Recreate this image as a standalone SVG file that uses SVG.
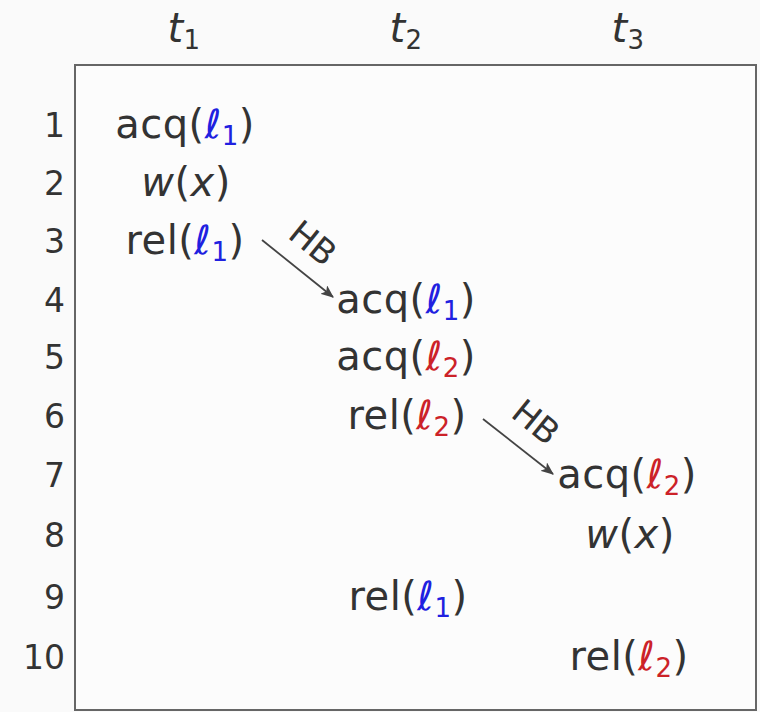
<svg xmlns="http://www.w3.org/2000/svg" width="760" height="712" viewBox="0 0 760 712">
<defs>
<style>
.t{font-family:"DejaVu Sans","Liberation Sans",sans-serif;font-size:40px;fill:#333;text-anchor:middle;letter-spacing:0.5px}
.n{font-family:"DejaVu Sans","Liberation Sans",sans-serif;font-size:33px;fill:#333;text-anchor:end}
.hb{font-family:"DejaVu Sans","Liberation Sans",sans-serif;font-size:34px;fill:#333;text-anchor:middle}
.b{fill:#2020e0;font-style:italic}
.r{fill:#cc2228;font-style:italic}
.i{font-style:italic}
.s{font-size:26px;font-style:normal}
.arr{stroke:#444;stroke-width:1.8;fill:none}
</style>
<marker id="ah" viewBox="0 0 12 10" refX="11" refY="5" markerWidth="13" markerHeight="11" markerUnits="userSpaceOnUse" orient="auto">
<path d="M0,0 L12,5 L0,10 L3,5 Z" fill="#444"/>
</marker>
</defs>
<rect width="760" height="712" fill="#fafafa"/>
<g id="frame">
<rect x="75" y="65" width="681" height="645" fill="#fcfcfc" stroke="#666" stroke-width="2"/>
</g>
<g id="headers">
<text class="t" x="184" y="42"><tspan class="i">t</tspan><tspan class="s" dy="7">1</tspan></text>
<text class="t" x="406" y="42"><tspan class="i">t</tspan><tspan class="s" dy="7">2</tspan></text>
<text class="t" x="628" y="42"><tspan class="i">t</tspan><tspan class="s" dy="7">3</tspan></text>
</g>
<g id="rownums">
<text class="n" x="65" y="137">1</text>
<text class="n" x="65" y="195">2</text>
<text class="n" x="65" y="253">3</text>
<text class="n" x="65" y="312">4</text>
<text class="n" x="65" y="369">5</text>
<text class="n" x="65" y="428">6</text>
<text class="n" x="65" y="487">7</text>
<text class="n" x="65" y="547">8</text>
<text class="n" x="65" y="609">9</text>
<text class="n" x="65" y="669">10</text>
</g>
<g id="e1"><text class="t" x="185" y="138">acq(<tspan class="b">ℓ</tspan><tspan class="b s" dy="7">1</tspan><tspan dy="-7">)</tspan></text></g>
<g id="e2"><text class="t" x="186" y="196"><tspan class="i">w</tspan>(<tspan class="i">x</tspan>)</text></g>
<g id="e3"><text class="t" x="185" y="254">rel(<tspan class="b">ℓ</tspan><tspan class="b s" dy="7">1</tspan><tspan dy="-7">)</tspan></text></g>
<g id="e4"><text class="t" x="406" y="313">acq(<tspan class="b">ℓ</tspan><tspan class="b s" dy="7">1</tspan><tspan dy="-7">)</tspan></text></g>
<g id="e5"><text class="t" x="406" y="370">acq(<tspan class="r">ℓ</tspan><tspan class="r s" dy="7">2</tspan><tspan dy="-7">)</tspan></text></g>
<g id="e6"><text class="t" x="407" y="429">rel(<tspan class="r">ℓ</tspan><tspan class="r s" dy="7">2</tspan><tspan dy="-7">)</tspan></text></g>
<g id="e7"><text class="t" x="627" y="488">acq(<tspan class="r">ℓ</tspan><tspan class="r s" dy="7">2</tspan><tspan dy="-7">)</tspan></text></g>
<g id="e8"><text class="t" x="630" y="548"><tspan class="i">w</tspan>(<tspan class="i">x</tspan>)</text></g>
<g id="e9"><text class="t" x="408" y="610">rel(<tspan class="b">ℓ</tspan><tspan class="b s" dy="7">1</tspan><tspan dy="-7">)</tspan></text></g>
<g id="e10"><text class="t" x="629" y="670">rel(<tspan class="r">ℓ</tspan><tspan class="r s" dy="7">2</tspan><tspan dy="-7">)</tspan></text></g>
<g id="connectors">
<line class="arr" x1="262" y1="240" x2="333" y2="297" marker-end="url(#ah)"/>
<text class="hb" transform="translate(313,243) rotate(38.8)" y="12">HB</text>
<line class="arr" x1="483" y1="419" x2="553" y2="474" marker-end="url(#ah)"/>
<text class="hb" transform="translate(536,422) rotate(38.8)" y="12">HB</text>
</g>
</svg>
